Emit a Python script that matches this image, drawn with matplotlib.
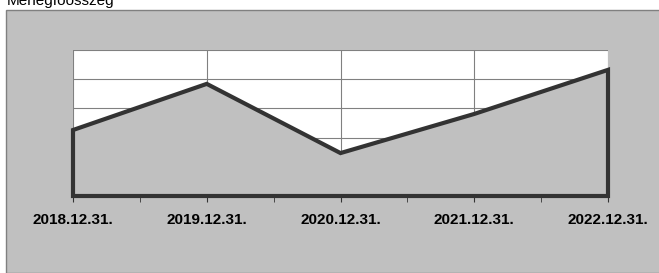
import matplotlib
matplotlib.use("Agg")
import matplotlib.pyplot as plt
from matplotlib.patches import Rectangle

# Mérlegfőösszeg, relatív szint (tengely felirat nélkül)
dates = ["2018.12.31.", "2019.12.31.", "2020.12.31.", "2021.12.31.", "2022.12.31."]
values = [2.26, 3.84, 1.47, 2.81, 4.32]
y_max = 5

plt.rcParams["font.family"] = ["Liberation Sans", "DejaVu Sans"]

W, H = 659, 273
fig = plt.figure(figsize=(W / 100, H / 100), dpi=100)
fig.patch.set_facecolor("white")

# szürke diagramterület
fig.patches.append(Rectangle((6 / W, 0), 1, 1 - 10 / H, transform=fig.transFigure,
                             facecolor="#c0c0c0", edgecolor="#808080", linewidth=1, zorder=-10))
fig.text(7 / W, 1 - 5 / H, "Mérlegfőösszeg", fontsize=11, va="baseline", ha="left", color="black")

ax = fig.add_axes([73 / W, 1 - 196 / H, (608 - 73) / W, (196 - 50) / H])
ax.set_facecolor("white")
x = list(range(len(dates)))
ax.set_xlim(0, len(dates) - 1)
ax.set_ylim(0, y_max)

ax.set_yticks(range(y_max + 1))
ax.set_xticks(x)
ax.grid(True, color="#808080", linewidth=0.8)
ax.set_axisbelow(True)

poly_x = [x[0]] + x + [x[-1]]
poly_y = [0] + values + [0]
ax.fill(poly_x, poly_y, facecolor="#c0c0c0", edgecolor="#333333", linewidth=3,
        joinstyle="miter", zorder=3, clip_on=False)

ax.set_xticks([i + 0.5 for i in x[:-1]], minor=True)
ax.set_xticklabels(dates, fontsize=11, fontweight="bold")
ax.tick_params(axis="x", which="both", length=4, color="#333333", pad=8)
ax.tick_params(axis="y", length=0, labelleft=False)
for side in ["top", "right", "left"]:
    ax.spines[side].set_visible(False)
ax.spines["bottom"].set_color("#333333")

fig.savefig("out.png", dpi=100)
